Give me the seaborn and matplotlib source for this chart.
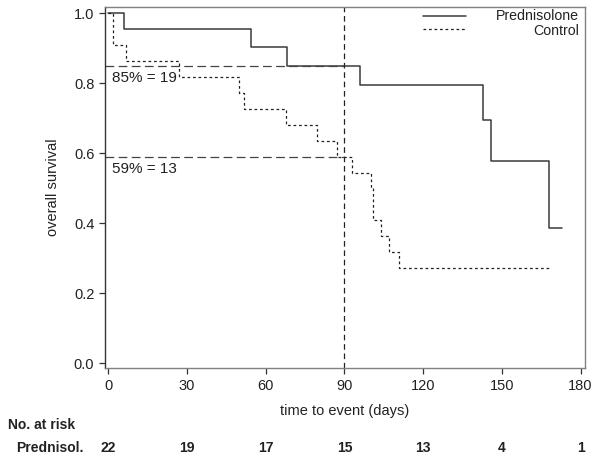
import numpy as np
import pandas as pd
import matplotlib
matplotlib.use('Agg')
import matplotlib.pyplot as plt
import seaborn as sns

# Kaplan-Meier step data
pred_days = [0, 6.0, 54.3, 68.0, 96.0, 142.9, 146.0, 167.9, 173.1]
pred_surv = [1.0, 0.955, 0.905, 0.85, 0.795, 0.694, 0.579, 0.387, 0.387]

ctrl_days = [0, 1.9, 6.7, 27.0, 49.9, 51.7, 67.7, 79.5, 87.1, 92.8,
             100.0, 101.0, 103.8, 106.9, 110.9, 168.3]
ctrl_surv = [1.0, 0.909, 0.864, 0.818, 0.773, 0.727, 0.682, 0.636, 0.591,
             0.545, 0.50, 0.409, 0.364, 0.318, 0.273, 0.273]

cutoff_day = 90
ref_levels = [0.85, 0.59]
ref_labels = ['85% = 19', '59% = 13']

risk_times = [0, 30, 60, 90, 120, 150, 180]
risk_pred = [22, 19, 17, 15, 13, 4, 1]

sns.set_style('white')
plt.rcParams['font.family'] = ['Liberation Sans', 'DejaVu Sans']

fig = plt.figure(figsize=(6, 4.61), dpi=100)
ax = fig.add_axes([0.1745, 0.2011, 0.8005, 0.7844])

pred_df = pd.DataFrame({'day': pred_days, 'surv': pred_surv})
ctrl_df = pd.DataFrame({'day': ctrl_days, 'surv': ctrl_surv})

sns.lineplot(data=pred_df, x='day', y='surv', ax=ax, estimator=None, sort=False,
             drawstyle='steps-post', color='#3a3a3a', linewidth=1.1)
sns.lineplot(data=ctrl_df, x='day', y='surv', ax=ax, estimator=None, sort=False,
             drawstyle='steps-post', color='#222222', linewidth=0.9,
             linestyle=(0, (2.2, 2.2)))

# reference lines
ax.axvline(cutoff_day, color='#222222', linewidth=0.9, linestyle=(0, (4.5, 3)))
for lvl, lab in zip(ref_levels, ref_labels):
    ax.plot([-1.4, cutoff_day], [lvl, lvl], color='#444444', linewidth=0.9,
            linestyle=(0, (7, 3.5)))
    ax.text(1.2, lvl - 0.016, lab, ha='left', va='top', fontsize=11, color='#222222')

ax.set_xlim(-1.4, 181.7)
ax.set_ylim(-0.014, 1.019)
ax.set_xticks(risk_times)
ax.set_yticks([0.0, 0.2, 0.4, 0.6, 0.8, 1.0])
ax.set_yticklabels(['0.0', '0.2', '0.4', '0.6', '0.8', '1.0'])
ax.tick_params(axis='both', which='both', direction='out', length=4.5, width=0.9,
               color='#333333', labelsize=10.5, labelcolor='#222222',
               bottom=True, left=True, pad=3)

for side in ['top', 'right', 'bottom']:
    ax.spines[side].set_color('#808080')
    ax.spines[side].set_linewidth(1.0)
ax.spines['left'].set_color('#333333')
ax.spines['left'].set_linewidth(1.0)

ax.set_xlabel('time to event (days)', fontsize=10.5, color='#222222', labelpad=8)
ax.set_ylabel('overall survival', fontsize=10.5, color='#222222', labelpad=10)

# legend (right aligned text like the original)
tr = ax.transAxes
ax.plot([0.663, 0.752], [0.975, 0.975], transform=tr, color='#3a3a3a', linewidth=1.1)
ax.plot([0.663, 0.752], [0.938, 0.938], transform=tr, color='#222222', linewidth=0.9,
        linestyle=(0, (2.2, 2.2)))
ax.text(0.987, 0.975, 'Prednisolone', transform=tr, ha='right', va='center',
        fontsize=10.2, color='#222222')
ax.text(0.987, 0.934, 'Control', transform=tr, ha='right', va='center',
        fontsize=10.2, color='#222222')

# number at risk table
xt = ax.get_xaxis_transform()
fig.text(0.013, 1 - 425 / 461, 'No. at risk', ha='left', va='center',
         fontsize=10, fontweight='bold', color='#222222')
fig.text(0.14, 1 - 448 / 461, 'Prednisol.', ha='right', va='center',
         fontsize=10, fontweight='bold', color='#222222')
for t, n in zip(risk_times, risk_pred):
    ax.text(t, (368.3 - 448) / 361.6, str(n), transform=xt, ha='center', va='center',
            fontsize=10, fontweight='bold', color='#222222')

fig.savefig('out.png', dpi=100)
